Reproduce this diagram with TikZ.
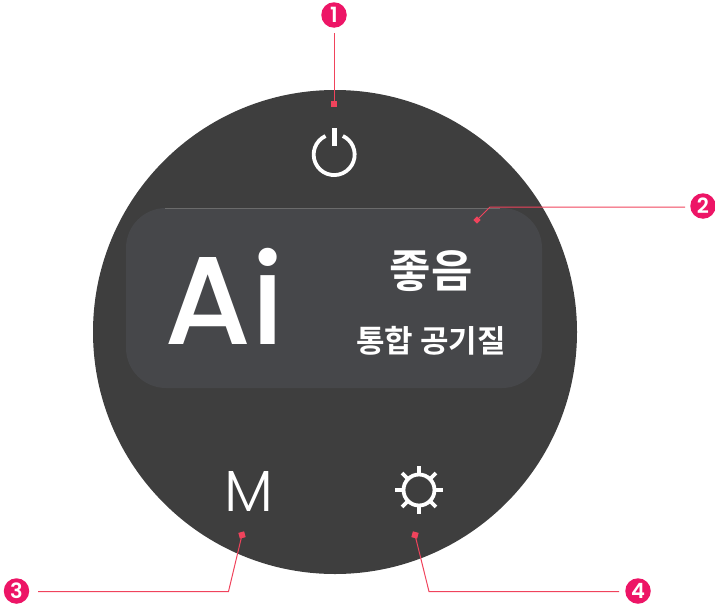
\documentclass[tikz,border=0pt]{standalone}
\usepackage{fontspec}
\newfontfamily\krb{Noto Sans CJK KR Bold}
\newfontfamily\popm{Poppins Medium}
\newfontfamily\popl{Poppins Light}
\newfontfamily\popb{Poppins SemiBold}
\definecolor{dial}{HTML}{3E3E3E}
\definecolor{panel}{HTML}{46474A}
\definecolor{edgeline}{HTML}{6B6B6B}
\definecolor{badge}{HTML}{ED1566}
\definecolor{leader}{HTML}{F0435C}
\tikzset{
  x=1pt,y=-1pt,
  badgenode/.style={circle,fill=badge,minimum size=25.5pt,inner sep=0pt,text=white,font=\popb\fontsize{21}{21}\selectfont},
  leaderline/.style={draw=leader,line width=1pt},
  dot/.style={fill=leader,minimum size=6pt,inner sep=0pt},
  icon/.style={draw=white,line width=3.8pt},
  label/.style={text=white,inner sep=0pt,anchor=base},
}
\begin{document}
\begin{tikzpicture}
\useasboundingbox (0,0) rectangle (715,605);
\fill[dial] (335,332) circle (242);
\fill[panel,rounded corners=40pt] (126,208) rectangle (542,388);
\draw[edgeline,line width=0.7pt] (165,208) -- (500,208);
% power icon
\draw[icon] (325.5,136) arc[start angle=-115,end angle=-425,radius=20.5];
\fill[white] (331.5,128) rectangle (336.5,146);
% gear icon
\draw[icon] (419,490) circle (15.5);
\foreach \a in {0,45,...,315}{\draw[icon] (419,490)++(\a:16.5) -- ++(\a:7.5);}
% text
\node[label,font=\popm\fontsize{125}{125}\selectfont] (ai) at (224.5,344) {Ai};
\node[label,font=\krb\fontsize{45}{45}\selectfont] (good) at (431,287) {좋음};
\node[label,font=\krb\fontsize{31}{31}\selectfont] (air) at (431,352) {통합 공기질};
\node[label,font=\popl\fontsize{58}{58}\selectfont] (m) at (248.5,511) {M};
% badges
\node[badgenode] (b1) at (334,15) {1};
\node[badgenode] (b2) at (703,206) {2};
\node[badgenode] (b3) at (16.5,591) {3};
\node[badgenode] (b4) at (638,591) {4};
% anchors
\node[dot] (d1) at (334,104) {};
\node[dot,rotate=45,minimum size=5pt] (d2) at (477,220) {};
\node[dot,rotate=15] (d3) at (242,535) {};
\node[dot,rotate=-15] (d4) at (415,535) {};
\coordinate (s1) at (334,33);
\coordinate (s2) at (685,207);
\coordinate (k2) at (490,207);
\coordinate (s3) at (38,591.5);
\coordinate (k3) at (228.5,591.5);
\coordinate (s4) at (619,591.5);
\coordinate (k4) at (429,591.5);
\draw[leaderline] (s1) -- (d1.center);
\draw[leaderline] (s2) -- (k2) -- (d2.center);
\draw[leaderline] (s3) -- (k3) -- (d3.center);
\draw[leaderline] (s4) -- (k4) -- (d4.center);
\end{tikzpicture}
\end{document}
